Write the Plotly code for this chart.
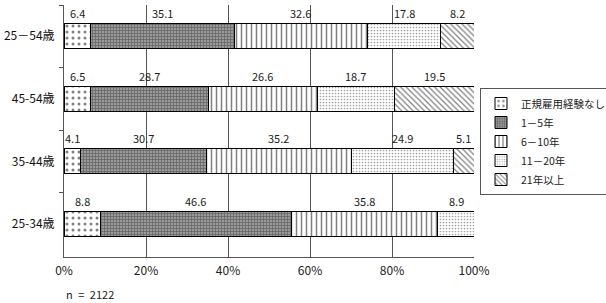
import plotly.graph_objects as go

categories = ["25－54歳", "45-54歳", "35-44歳", "25-34歳"]
series_names = ["正規雇用経験なし", "1－5年", "6－10年", "11－20年", "21年以上"]
v_none = [6.4, 6.5, 4.1, 8.8]
v_1_5 = [35.1, 28.7, 30.7, 46.6]
v_6_10 = [32.6, 26.6, 35.2, 35.8]
v_11_20 = [17.8, 18.7, 24.9, 8.9]
v_21 = [8.2, 19.5, 5.1, 0.0]
x_ticks = [0, 20, 40, 60, 80, 100]
x_ticklabels = ["0%", "20%", "40%", "60%", "80%", "100%"]
note = "n = 2122"

series = [v_none, v_1_5, v_6_10, v_11_20, v_21]
patterns = [
    dict(shape=".", fgcolor="#000000", bgcolor="#ffffff", size=6, solidity=0.2),
    dict(shape="+", fgcolor="#333333", bgcolor="#9a9a9a", size=3, solidity=0.45),
    dict(shape="|", fgcolor="#000000", bgcolor="#ffffff", size=5, solidity=0.3),
    dict(shape=".", fgcolor="#444444", bgcolor="#ffffff", size=3, solidity=0.25),
    dict(shape="\\", fgcolor="#000000", bgcolor="#ffffff", size=4, solidity=0.3),
]

font_jp = "Noto Sans CJK JP"
fig = go.Figure()
for name, vals, pat in zip(series_names, series, patterns):
    fig.add_trace(go.Bar(
        y=categories, x=vals, name=name, orientation="h", width=0.4,
        marker=dict(color="#ffffff", pattern=pat, line=dict(color="#000000", width=1)),
        hoverinfo="skip",
    ))

annotations = []
for i, cat in enumerate(categories):
    cum = 0.0
    for vals in series:
        v = vals[i]
        if v > 0:
            annotations.append(dict(
                x=cum + v / 2, y=cat, xref="x", yref="y", text=f"{v:.1f}",
                showarrow=False, yshift=23,
                font=dict(family=font_jp, size=11, color="#222222"),
            ))
        cum += v
annotations.append(dict(
    x=(64 - 64) / 410, y=-(294 - 257) / 252, xref="paper", yref="paper",
    text=note.replace(" ", "\u2002"), showarrow=False, xanchor="left", yanchor="middle",
    font=dict(family=font_jp, size=11, color="#222222"),
))

fig.update_layout(
    width=606, height=303,
    margin=dict(l=64, r=132, t=5, b=46, pad=0, autoexpand=False),
    barmode="stack",
    plot_bgcolor="#ffffff", paper_bgcolor="#ffffff",
    showlegend=True,
    legend=dict(
        x=480 / 606, y=(303 - 88) / 303, xref="container", yref="container",
        xanchor="left", yanchor="top",
        traceorder="normal",
        bordercolor="#555555", borderwidth=1,
        font=dict(family=font_jp, size=10.5, color="#222222"),
        itemwidth=30, tracegroupgap=0,
    ),
    annotations=annotations,
    xaxis=dict(
        range=[0, 100], tickvals=x_ticks, ticktext=x_ticklabels,
        showgrid=True, gridcolor="#555555", gridwidth=1,
        showline=True, linecolor="#555555", linewidth=1,
        zeroline=False, ticks="", ticklabelstandoff=3,
        tickfont=dict(family=font_jp, size=12, color="#222222"),
        fixedrange=True,
    ),
    yaxis=dict(
        categoryorder="array", categoryarray=categories, autorange="reversed",
        showline=True, linecolor="#555555", linewidth=1,
        ticks="outside", tickson="boundaries", ticklen=4, tickcolor="#555555",
        showgrid=False, ticklabelstandoff=6,
        tickfont=dict(family=font_jp, size=12, color="#111111"),
        fixedrange=True,
    ),
)

fig.write_html("out.html")
